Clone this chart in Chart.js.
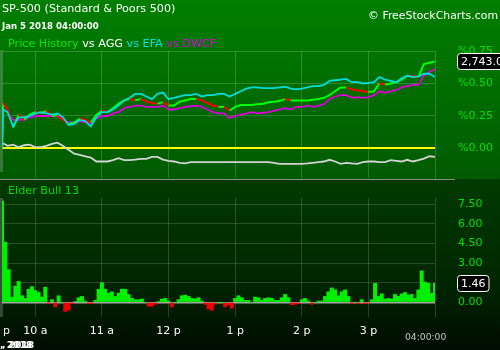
<!DOCTYPE html>
<html><head><meta charset="utf-8">
<script src="https://cdn.jsdelivr.net/npm/chart.js@4/dist/chart.umd.min.js"></script>
<style>
html,body{margin:0;padding:0;width:500px;height:350px;overflow:hidden;background:#000;}
#wrap{position:relative;width:500px;height:350px;font-family:"DejaVu Sans",sans-serif;overflow:hidden;}
#bgTop{position:absolute;left:0;top:0;width:500px;height:179px;background:linear-gradient(#007f00,#005a00);}
#bgBot{position:absolute;left:0;top:179px;width:500px;height:171px;background:linear-gradient(#003a00 0%,#002600 60%,#000c00 100%);}
#sep{position:absolute;left:0;top:179px;width:455px;height:1px;background:#8a8a8a;}
.strip{position:absolute;left:0;width:3px;background:rgba(190,190,190,0.28);}
.t{position:absolute;white-space:nowrap;line-height:1;}
#c1wrap{position:absolute;left:0;top:0;width:500px;height:180px;}
#c2wrap{position:absolute;left:0;top:180px;width:500px;height:170px;}
</style></head>
<body>
<div id="wrap">
  <div id="bgTop"></div>
  <div id="bgBot"></div>
  <div class="strip" style="top:50px;height:122px"></div>
  <div class="strip" style="top:198px;height:119px"></div>
  <div id="sep"></div>
  <div id="c1wrap"><canvas id="c1" width="500" height="180"></canvas></div>
  <div id="c2wrap"><canvas id="c2" width="500" height="170"></canvas></div>
  <div class="t" style="left:2px;top:3px;font-size:11.2px;color:#fff">SP-500 (Standard &amp; Poors 500)</div>
  <div class="t" style="left:2px;top:21.5px;font-size:8.6px;font-weight:bold;color:#fff">Jan 5 2018 04:00:00</div>
  <div class="t" style="right:2px;top:11.2px;font-size:10.9px;color:#fff">© FreeStockCharts.com</div>
  <div class="t" style="left:8px;top:38px;font-size:11.2px"><span style="color:#00e600">Price History</span><span style="color:#fff"> vs AGG</span><span style="color:#00e0e0"> vs EFA</span><span style="color:#e000e0"> vs DWCF</span></div>
  <div class="t" style="left:8px;top:185px;font-size:11.2px;color:#00d800">Elder Bull 13</div>
  <div class="t" style="left:3px;top:325px;font-size:11px;color:#fff">p</div>
  <div class="t" style="left:405px;top:332px;font-size:9.2px;color:#c8c8c8">04:00:00</div>
  <div class="t" style="left:0px;top:339.5px;font-size:9.2px;font-weight:bold;color:#fff;text-shadow:2px 0 0 #fff">, 2018</div>
</div>
<script>
// ---- data ----
const lineMinutes = [0,1,5,10,15,20,25,30,35,40,45,50,55,60,65,70,75,80,85,90,95,100,105,110,115,120,125,130,135,140,145,150,155,160,165,170,175,180,185,190,195,200,205,210,215,220,225,230,235,240,245,250,255,260,265,270,275,280,285,290,295,300,305,310,315,320,325,330,335,340,345,350,355,360,365,370,375,380,385,390];
const priceHistory = [0,0.35,0.30,0.16,0.26,0.22,0.26,0.28,0.27,0.29,0.25,0.26,0.22,0.19,0.20,0.23,0.22,0.20,0.26,0.29,0.28,0.31,0.345,0.37,0.38,0.37,0.38,0.36,0.35,0.345,0.356,0.33,0.33,0.36,0.37,0.38,0.38,0.37,0.35,0.33,0.32,0.32,0.29,0.32,0.335,0.335,0.335,0.34,0.345,0.356,0.36,0.365,0.38,0.37,0.37,0.37,0.37,0.375,0.38,0.39,0.41,0.44,0.47,0.47,0.455,0.446,0.44,0.435,0.44,0.50,0.49,0.50,0.51,0.53,0.56,0.555,0.55,0.65,0.66,0.67];
const efa = [0,0.30,0.28,0.17,0.24,0.24,0.25,0.27,0.28,0.27,0.26,0.27,0.24,0.18,0.19,0.22,0.21,0.17,0.24,0.28,0.28,0.30,0.33,0.37,0.39,0.42,0.42,0.40,0.38,0.42,0.43,0.38,0.39,0.40,0.41,0.41,0.42,0.40,0.41,0.41,0.42,0.42,0.40,0.42,0.44,0.46,0.47,0.47,0.465,0.465,0.465,0.47,0.475,0.46,0.455,0.46,0.47,0.48,0.48,0.49,0.52,0.525,0.53,0.535,0.51,0.51,0.50,0.505,0.51,0.55,0.53,0.52,0.51,0.54,0.56,0.55,0.555,0.575,0.575,0.55];
const dwcf = [0,0.30,0.28,0.22,0.22,0.22,0.24,0.25,0.25,0.25,0.25,0.25,0.22,0.20,0.20,0.21,0.20,0.19,0.23,0.25,0.25,0.27,0.28,0.31,0.32,0.33,0.33,0.32,0.32,0.32,0.33,0.30,0.30,0.31,0.32,0.325,0.33,0.32,0.30,0.28,0.27,0.27,0.235,0.25,0.26,0.27,0.28,0.27,0.275,0.28,0.29,0.30,0.31,0.30,0.32,0.32,0.33,0.32,0.33,0.34,0.38,0.40,0.41,0.41,0.39,0.395,0.39,0.395,0.41,0.44,0.43,0.44,0.45,0.47,0.48,0.49,0.49,0.56,0.59,0.61];
const agg = [0.03,0.04,0.02,0.03,0.01,0.025,0.03,0.01,0.01,0.02,0.035,0.045,0.02,-0.01,-0.04,-0.05,-0.06,-0.07,-0.10,-0.10,-0.10,-0.09,-0.075,-0.09,-0.09,-0.085,-0.08,-0.08,-0.065,-0.065,-0.085,-0.095,-0.10,-0.11,-0.115,-0.105,
  -0.105,-0.105,-0.105,-0.105,-0.105,-0.105,-0.105,-0.105,-0.105,-0.105,-0.105,-0.105,-0.105,-0.105,
  -0.11,-0.118,-0.118,-0.118,-0.118,-0.118,-0.115,-0.11,-0.105,-0.10,-0.087,-0.10,-0.118,-0.11,-0.115,-0.118,-0.105,-0.10,-0.10,-0.105,-0.105,-0.09,-0.095,-0.10,-0.087,-0.10,-0.09,-0.078,-0.06,-0.065];
const elderBarStep = 3; // minutes per histogram bar
const elderBull = [7.75,4.6,2.5,0.4,1.24,1.6,0.5,0.3,1.0,1.2,
 0.9,0.75,0.4,1.15,-0.1,0.2,-0.35,0.5,0,-0.7,
 -0.6,-0.1,0.05,0.35,0.45,0.1,-0.1,-0.08,0.15,1.0,
 1.5,1.0,0.7,0.8,0.45,0.7,1.0,1.0,0.6,0.3,
 0.2,0.2,0.25,0,-0.3,-0.3,-0.15,0.05,0.25,0.3,
 0.1,-0.35,0,0.2,0.5,0.55,0.45,0.3,0.25,0.35,
 0.1,-0.15,-0.5,-0.6,-0.15,0,0,-0.35,-0.2,-0.45,
 0.3,0.5,0.35,0.15,0.15,0,0.4,0.35,0.15,0.3,
 0.35,0.3,0.15,0.15,0.35,0.6,0.35,-0.2,-0.15,-0.1,
 0.2,0.3,0.1,-0.15,0,0.1,0.1,0.45,0.8,1.1,
 0.95,0.5,0.8,0.95,0.45,-0.1,0,-0.1,0.2,-0.1,
 -0.05,0.2,1.45,0.45,0.65,0.25,0.3,0.25,0.6,0.45,
 0.65,0.75,0.55,0.6,0.3,0.95,2.4,1.55,1.45,0.7,
 1.46];
const hourTickMinutes = [30,90,150,210,270,330];
const hourTickLabels = ['10 a','11 a','12 p','1 p','2 p','3 p'];
const pctTicks = [0,0.25,0.5,0.75];
const elderTicks = [0,1.5,3,4.5,6,7.5];
const lastPriceLabel = '2,743.0';

// ---- helpers ----
const FONT = 'DejaVu Sans';
const toXY = (xs, ys) => ys.map((y,i)=>({x:xs[i], y}));
const gridCol = 'rgba(255,255,255,0.18)';
function valueBox(text, value){
  return {id:'valueBox', afterDraw(chart){
    const ctx = chart.ctx, y = Math.round(chart.scales.y.getPixelForValue(value)) + 0.5;
    const x = chart.chartArea.right + 22.5;
    ctx.save();
    ctx.font = '11px "' + FONT + '"';
    const w = ctx.measureText(text).width + 7, h = 16;
    ctx.beginPath();
    ctx.roundRect(x, y - h/2, w, h, 3);
    ctx.fillStyle = '#000'; ctx.fill();
    ctx.strokeStyle = '#fff'; ctx.lineWidth = 1; ctx.stroke();
    ctx.fillStyle = '#fff'; ctx.textBaseline = 'middle'; ctx.textAlign = 'left';
    ctx.fillText(text, x + 3.5, y + 0.5);
    ctx.restore();
  }};
}
const fixTicks = (vals, lo, hi) => s => { s.ticks = vals.map(v=>({value:v})); s.min = lo; s.max = hi; };
const fitRight = s => { s.width = 65; s.paddingTop = 0; s.paddingBottom = 0; };

// ---- upper chart ----
new Chart(document.getElementById('c1'), {
  type:'line',
  data:{datasets:[
    {label:'EFA', data:toXY(lineMinutes, efa), borderColor:'#00dcdc', borderWidth:1.8, pointRadius:0, tension:0},
    {label:'Price History', data:toXY(lineMinutes, priceHistory), borderColor:'#00ff00', borderWidth:2, pointRadius:0, tension:0,
      segment:{borderColor: c => c.p1.parsed.y >= c.p0.parsed.y ? '#00ff00' : '#ff0000'}},
    {label:'DWCF', data:toXY(lineMinutes, dwcf), borderColor:'#dc00dc', borderWidth:1.8, pointRadius:0, tension:0},
    {label:'AGG', data:toXY(lineMinutes, agg), borderColor:'#d4d4d4', borderWidth:1.8, pointRadius:0, tension:0}
  ]},
  options:{
    animation:false, responsive:false, maintainAspectRatio:false,
    layout:{padding:{left:2, top:51, right:0, bottom:0}},
    plugins:{legend:{display:false}, tooltip:{enabled:false}, title:{display:false}},
    scales:{
      x:{type:'linear', min:0, max:390, afterBuildTicks:fixTicks(hourTickMinutes,0,390), afterFit:s=>{s.height=2;},
         ticks:{display:false}, grid:{color:gridCol, drawTicks:false}, border:{display:false}},
      y:{position:'right', min:-0.227, max:0.75, afterBuildTicks:fixTicks(pctTicks,-0.227,0.75), afterFit:fitRight,
         ticks:{color:'#00e000', padding:23, font:{family:FONT, size:11}, callback:v=>'%'+Number(v).toFixed(2)},
         grid:{drawTicks:false, color:c=>c.tick && c.tick.value===0 ? '#ffff00' : gridCol, lineWidth:c=>c.tick && c.tick.value===0 ? 2 : 1},
         border:{display:true, color:gridCol}}
    }
  },
  plugins:[valueBox(lastPriceLabel, priceHistory[priceHistory.length-1])]
});

// ---- lower chart ----
new Chart(document.getElementById('c2'), {
  type:'bar',
  data:{datasets:[{label:'Elder Bull 13', data:elderBull.map((v,i)=>({x:i*elderBarStep, y:v})),
    backgroundColor:elderBull.map(v=> v>=0 ? '#00f000' : '#f00000'), borderWidth:0, barPercentage:1, categoryPercentage:1}]},
  options:{
    animation:false, responsive:false, maintainAspectRatio:false,
    layout:{padding:{left:2, top:18, right:0, bottom:0}},
    plugins:{legend:{display:false}, tooltip:{enabled:false}},
    scales:{
      x:{type:'linear', min:0, max:390, offset:false, afterBuildTicks:fixTicks(hourTickMinutes,0,390), afterFit:s=>{s.height=33;},
         ticks:{color:'#fff', padding:8, maxRotation:0, autoSkip:false, font:{family:FONT, size:11},
           callback:v=>hourTickLabels[hourTickMinutes.indexOf(v)]},
         grid:{color:'rgba(255,255,255,0.16)', drawTicks:false, offset:false}, border:{display:false}},
      y:{position:'right', min:-1.125, max:7.98, afterBuildTicks:fixTicks(elderTicks,-1.125,7.98), afterFit:fitRight,
         ticks:{color:'#00e000', padding:23, font:{family:FONT, size:11}, callback:v=>Number(v).toFixed(2)},
         grid:{drawTicks:false, color:c=>c.tick && c.tick.value===0 ? 'rgba(200,200,200,0.8)' : 'rgba(255,255,255,0.16)', lineWidth:c=>c.tick && c.tick.value===0 ? 1.5 : 1},
         border:{display:true, color:'rgba(255,255,255,0.16)'}}
    }
  },
  plugins:[valueBox(elderBull[elderBull.length-1].toFixed(2), elderBull[elderBull.length-1])]
});
</script>
</body></html>
